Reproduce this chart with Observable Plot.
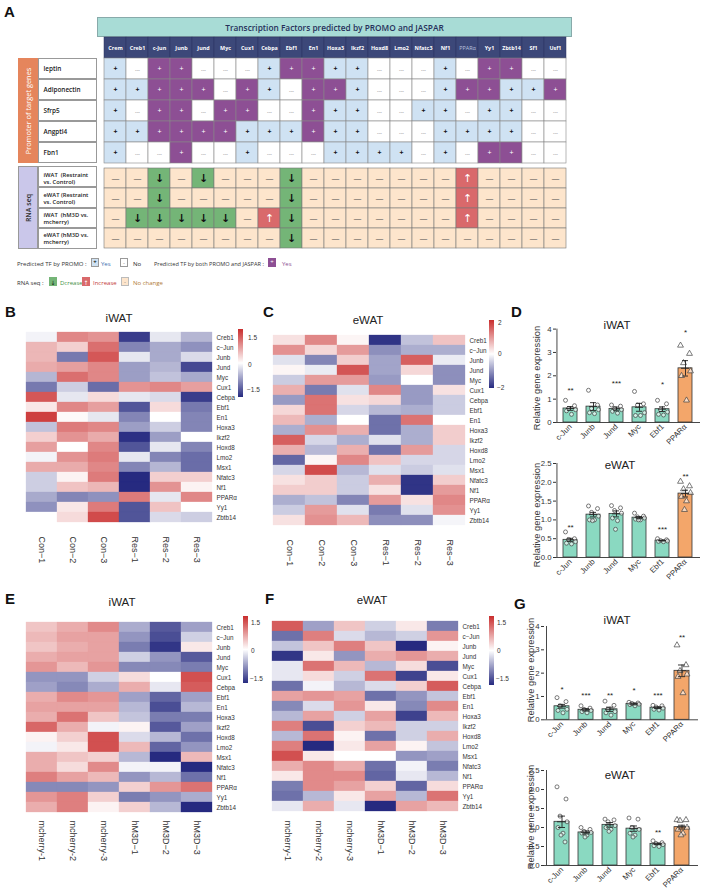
<!DOCTYPE html>
<html><head><meta charset="utf-8">
<script src="https://cdn.jsdelivr.net/npm/d3@7"></script>
<script src="https://cdn.jsdelivr.net/npm/@observablehq/plot@0.6"></script>
<style>
body{margin:0;background:#fff;font-family:"Liberation Sans",Arial,sans-serif;}
#fig{position:relative;width:709px;height:892px;overflow:hidden;background:#fff;}
#fig svg{position:absolute;overflow:visible;}
.box{position:absolute;box-sizing:border-box;}
</style></head><body><div id="fig"></div>
<script>
// ---------------- DATA ----------------
const tfs = ["Crem","Creb1","c-Jun","Junb","Jund","Myc","Cux1","Cebpa","Ebf1","En1","Hoxa3","Ikzf2","Hoxd8","Lmo2","Nfatc3","Nf1","PPARα","Yy1","Zbtb14","Sf1","Usf1"];
const promoterGenes = ["leptin","Adiponectin","Sfrp5","Angptl4","Fbn1"];
// P = PROMO only, B = PROMO and JASPAR, N = not predicted
const promoterCalls = [
  "PNBBNNNPBBPPNNNPNBBNN",
  "PPBBBNBPNBBPNNNPBBPPB",
  "PNBBNBBNNBPPNNPPNPPNN",
  "PPBBBBPPPBPPNNNPPPPNN",
  "PNNBNNPNNNPPPPNPNBBNN"
];
const rnaRows = ["iWAT  (Restraint\nvs. Control)","eWAT (Restraint\nvs. Control)","iWAT  (hM3D vs.\nmcherry)","eWAT (hM3D vs.\nmcherry)"];
// D = decrease, I = increase, C = no change
const rnaCalls = [
  "CCDCDCCCDCCCCCCCICCCC",
  "CCDCCCCCDCCCCCCCICCCC",
  "CDDDDDCIDCCCCCCCICCCC",
  "CCCCCCCCDCCCCCCCCCCCC"
];

const hmGenes = ["Creb1","c−Jun","Junb","Jund","Myc","Cux1","Cebpa","Ebf1","En1","Hoxa3","Ikzf2","Hoxd8","Lmo2","Msx1","Nfatc3","Nf1","PPARα","Yy1","Zbtb14"];
const resSamples = ["Con−1","Con−2","Con−3","Res−1","Res−2","Res−3"];
const dreSamples = ["mcherry-1","mcherry-2","mcherry-3","hM3D−1","hM3D−2","hM3D−3"];
const hmB = [
 [-0.1,1.0,0.9,-1.6,-0.2,-0.6],[0.6,0.4,1.2,-1.0,-0.7,-0.9],[0.6,-1.1,1.4,-0.2,-0.7,-0.3],[0.7,0.8,1.0,-0.8,-0.6,-1.5],
 [-0.6,1.2,1.0,-0.8,-0.5,-0.7],[-1.1,-0.4,-1.2,0.9,1.0,0.8],[1.4,-0.2,0.3,-0.2,-0.3,-1.6],[0.2,1.0,0.8,-1.4,0.3,-1.1],
 [1.6,0.05,-0.2,-1.0,0.0,-1.0],[-0.5,1.1,1.0,-0.8,-0.4,-1.0],[0.4,0.9,0.7,-1.7,-0.8,0.0],[0.8,0.0,1.0,-1.4,-0.2,-1.0],
 [-0.1,0.9,1.1,-0.2,-1.0,-1.2],[0.7,0.7,1.0,-1.0,-0.6,-1.2],[-0.4,0.1,1.1,-1.9,0.4,0.4],[-0.4,0.5,0.6,-1.9,0.9,0.1],
 [-0.7,-1.0,-0.9,1.1,-0.2,1.0],[-0.9,0.2,1.1,-1.4,0.5,0.0],[0.0,0.3,1.5,-1.4,-0.3,-0.4]
];
const hmC = [
 [0.3,1.2,0.1,-2.0,-0.6,0.6],[1.1,0.4,1.0,-1.1,-0.8,-0.8],[-0.3,-1.2,0.5,-0.9,1.6,-0.2],[0.1,-0.2,1.7,-0.9,0.4,-1.1],
 [-0.5,1.0,1.0,-1.0,0.0,-1.1],[0.8,-1.3,-0.3,1.2,-1.0,0.3],[-1.0,1.4,0.3,0.4,-1.0,-0.5],[0.4,1.4,-0.4,-0.7,-0.8,-0.5],
 [0.7,-0.8,0.0,-1.4,1.4,0.0],[-0.8,1.1,0.8,-1.4,-0.8,0.5],[1.6,-0.4,-0.8,-0.3,-0.8,0.5],[0.8,-0.7,0.8,-1.4,1.0,-0.4],
 [-1.5,0.1,1.2,0.6,-0.4,-0.4],[-0.4,1.8,-0.7,-0.3,-0.5,-0.3],[0.3,0.5,-0.5,0.8,-2.0,0.5],[0.5,0.5,-0.5,0.3,-2.0,1.0],
 [-0.8,-0.6,-1.2,1.0,0.3,1.2],[-0.5,1.0,-0.3,-1.3,-0.3,1.1],[0.3,1.1,0.7,-1.1,-1.1,-0.1]
];
const hmE = [
 [0.5,0.7,1.0,-0.7,-1.4,-0.8],[0.6,0.8,0.8,-0.9,-1.5,-0.4],[0.5,0.7,0.8,-1.1,-1.7,0.2],[0.7,0.8,0.8,-0.4,-0.9,-1.4],
 [0.9,0.6,0.9,-1.0,-1.0,-1.1],[-0.9,-0.9,-0.4,0.3,0.0,1.5],[-0.8,-1.0,-0.7,0.7,-0.2,1.4],[0.7,1.0,0.9,-0.8,-1.3,-0.8],
 [0.8,0.8,0.8,-0.6,-1.5,-0.6],[0.7,1.2,0.5,-0.5,-1.1,-1.1],[1.3,0.7,-0.1,0.1,-1.4,-0.8],[0.1,0.4,1.5,-0.3,-0.6,-1.2],
 [-0.1,0.2,1.5,0.6,-1.3,-0.9],[0.7,0.5,0.4,-0.6,-1.9,0.6],[0.7,0.3,1.0,-0.1,-0.1,-1.9],[1.1,0.8,0.6,-0.9,-0.6,-1.2],
 [-1.0,-1.0,-0.9,0.4,0.9,1.2],[0.9,1.1,0.4,-1.1,-0.9,-0.7],[0.7,1.1,0.1,0.4,-0.6,-1.8]
];
const hmF = [
 [1.4,-0.8,0.5,-0.4,0.2,-1.1],[-1.2,1.1,-0.3,-0.6,-0.4,0.9],[-0.5,0.5,1.1,0.5,-1.8,0.1],[-1.7,0.2,-0.9,0.7,0.9,0.7],
 [-0.2,1.2,0.6,-0.6,0.3,-1.5],[-0.2,0.3,-0.4,1.2,-1.6,0.2],[-1.2,-0.1,-0.6,-0.3,0.4,1.4],[0.8,0.9,0.8,-1.2,-0.9,-0.5],
 [-1.0,-0.3,0.9,0.2,-1.0,1.0],[-0.6,0.8,-0.4,0.8,-1.6,0.6],[1.1,-1.5,0.4,0.6,-0.4,-0.4],[-0.6,1.2,0.1,-1.2,-0.4,0.7],
 [1.1,-1.8,0.2,0.8,0.1,-0.5],[1.5,0.2,0.0,0.0,-0.9,-0.8],[0.7,1.0,0.7,-1.2,-0.1,-1.1],[0.2,1.0,1.0,-1.3,-0.2,-0.6],
 [-1.1,1.0,0.8,0.4,-1.3,0.3],[-1.2,-0.6,0.2,0.8,-0.6,1.2],[-0.2,0.7,-0.2,-1.8,0.8,0.6]
];

const qGenes = ["c-Jun","Junb","Jund","Myc","Ebf1","PPARα"];
const dIwatMean = [0.60,0.68,0.58,0.65,0.57,2.32];
const dIwatSem  = [0.08,0.17,0.08,0.17,0.10,0.33];
const dIwatPts  = [[0.95,0.72,0.6,0.55,0.5,0.35],[1.38,0.75,0.6,0.55,0.42,0.38],[0.75,0.7,0.6,0.55,0.48,0.4],[1.33,0.8,0.75,0.42,0.3,0.3],[0.95,0.8,0.55,0.45,0.35,0.32],[3.3,2.95,2.55,2.2,2.0,0.95]];
const dIwatStars = ["**","","***","","*","*"];
const dIwatStarY = [1.45,0,1.75,0,1.7,3.95];

const dEwatMean = [0.47,1.14,1.16,1.06,0.45,1.70];
const dEwatSem  = [0.04,0.06,0.08,0.03,0.01,0.09];
const dEwatPts  = [[0.68,0.5,0.48,0.42,0.38,0.36],[1.37,1.3,1.2,1.1,1.0,1.0,0.98],[1.38,1.32,1.25,1.18,1.05,0.98,0.75],[1.18,1.1,1.08,1.05,1.02,1.0,1.0],[0.5,0.47,0.45,0.44,0.43,0.42],[2.02,1.9,1.82,1.72,1.62,1.5,1.27]];
const dEwatStars = ["**","","","","***","**"];
const dEwatStarY = [0.85,0,0,0,0.8,2.22];

const gIwatMean = [0.58,0.43,0.45,0.68,0.52,2.10];
const gIwatSem  = [0.08,0.05,0.09,0.04,0.04,0.25];
const gIwatPts  = [[0.95,0.78,0.6,0.45,0.4,0.3],[0.6,0.5,0.45,0.4,0.35,0.3],[0.8,0.62,0.45,0.35,0.3,0.2],[0.75,0.72,0.7,0.67,0.65,0.6],[0.62,0.6,0.55,0.5,0.45,0.42],[3.2,2.35,2.1,1.95,1.85,1.15]];
const gIwatStars = ["*","***","**","*","***","**"];
const gIwatStarY = [1.38,1.14,1.14,1.36,1.14,3.62];

const gEwatMean = [1.15,0.87,1.07,0.97,0.57,1.01];
const gEwatSem  = [0.15,0.04,0.06,0.07,0.02,0.05];
const gEwatPts  = [[2.07,1.75,1.3,1.15,1.0,0.85,0.8,0.62],[1.0,0.95,0.9,0.87,0.85,0.8,0.75],[1.22,1.2,1.15,1.05,1.0,0.95,0.9],[1.25,1.22,1.0,0.95,0.85,0.8,0.75],[0.65,0.6,0.58,0.55,0.52,0.5],[1.2,1.2,1.18,1.0,0.95,0.85,0.8]];
const gEwatStars = ["","","","","**",""];
const gEwatStarY = [0,0,0,0,0.92,0];

// ---------------- HELPERS ----------------
const fig = document.getElementById("fig");
const FONT = "Liberation Sans, Arial, sans-serif";
function put(node, left, top){ node.style.position="absolute"; node.style.left=left+"px"; node.style.top=top+"px"; fig.appendChild(node); return node; }
function txt(t, left, top, css){ const d=document.createElement("div"); d.textContent=t; d.style.cssText="position:absolute;white-space:nowrap;line-height:1;"+(css||""); d.style.left=left+"px"; d.style.top=top+"px"; fig.appendChild(d); return d; }
function ctxt(t, cx, cy, css, rot){ const d=txt(t,cx,cy,css); d.style.transform="translate(-50%,-50%)"+(rot?" rotate("+rot+"deg)":""); return d; }
function box(left, top, w, h, css){ const d=document.createElement("div"); d.className="box"; d.style.cssText+= "left:"+left+"px;top:"+top+"px;width:"+w+"px;height:"+h+"px;"+(css||""); fig.appendChild(d); return d; }

// Panel letters
[["A",4,3],["B",5,303],["C",263,303],["D",511,303],["E",5,590],["F",265,590],["G",514,595]].forEach(([l,x,y])=>txt(l,x,y,"font:bold 15px "+FONT+";color:#111;"));

// ---------------- PANEL A ----------------
const TF = "Open Sans, Lato, sans-serif";
const cellColor = {P:"#cfe2f3",B:"#8d4f94",N:"#ffffff",D:"#74b577",I:"#d9696b",C:"#fde5cc"};
box(97,17,475,20,"background:#a8dcd6;border:0.6px solid #8aa;");
ctxt("Transcription Factors  predicted by PROMO and JASPAR",334.5,27,"font:600 8.3px "+TF+";color:#26305a;");
box(18,58,20,105,"background:#e5855c;");
ctxt("Promoter of target genes",28,110.5,"font:7.4px "+TF+";color:#fff;",-90);
box(18,166,20,83,"background:#cac7ea;border:0.6px solid #999;");
ctxt("RNA seq",28,207.5,"font:600 7px "+TF+";color:#333;",-90);
for(let i=0;i<5;i++) box(38,58+21*i,59,21,"background:#fff;border:0.6px solid #999;");
for(let i=0;i<4;i++) box(38,166+20.75*i,59,20.75,"background:#fff;border:0.6px solid #999;");

const headerRow = tfs.map(t=>({tf:t,row:"header"}));
const promoData = promoterGenes.flatMap((g,i)=>tfs.map((t,j)=>({row:g,tf:t,type:promoterCalls[i][j]})));
const plotA1 = Plot.plot({
  width:580,height:126,marginLeft:97,marginRight:8,marginTop:0,marginBottom:0,
  x:{domain:tfs,padding:0,axis:null},
  y:{domain:["header",...promoterGenes],padding:0,axis:null},
  color:{type:"identity"},
  style:{background:"transparent",fontFamily:TF,overflow:"visible"},
  marks:[
    Plot.cell(headerRow,{x:"tf",y:"row",fill:"#3c4879",stroke:"#2a3361",strokeWidth:0.5}),
    Plot.text(headerRow.filter(d=>d.tf!=="PPARα"),{x:"tf",y:"row",text:"tf",fill:"#fff",fontWeight:"bold",fontSize:5.4}),
    Plot.text(headerRow.filter(d=>d.tf==="PPARα"),{x:"tf",y:"row",text:"tf",fill:"#b9c1df",fontSize:5.4}),
    Plot.cell(promoData,{x:"tf",y:"row",fill:d=>cellColor[d.type],stroke:"#888",strokeWidth:0.6}),
    Plot.text(promoData.filter(d=>d.type==="P"),{x:"tf",y:"row",text:()=>"+",fill:"#111",fontSize:7,fontWeight:"bold"}),
    Plot.text(promoData.filter(d=>d.type==="B"),{x:"tf",y:"row",text:()=>"+",fill:"#fff",fontSize:7}),
    Plot.text(promoData.filter(d=>d.type==="N"),{x:"tf",y:"row",text:()=>"---",fill:"#777",fontSize:5,dy:1}),
    Plot.text(promoterGenes,{y:d=>d,text:d=>d,frameAnchor:"left",textAnchor:"start",dx:-54,fill:"#222",fontSize:6.4,fontWeight:600})
  ]
});
put(plotA1,0,37);

const rnaData = rnaRows.flatMap((r,i)=>tfs.map((t,j)=>({row:r,tf:t,type:rnaCalls[i][j]})));
const plotA2 = Plot.plot({
  width:580,height:83,marginLeft:97,marginRight:8,marginTop:0,marginBottom:0,
  x:{domain:tfs,padding:0,axis:null},
  y:{domain:rnaRows,padding:0,axis:null},
  color:{type:"identity"},
  style:{background:"transparent",fontFamily:TF,overflow:"visible"},
  marks:[
    Plot.cell(rnaData,{x:"tf",y:"row",fill:d=>cellColor[d.type],stroke:"#777",strokeWidth:0.6}),
    Plot.text(rnaData.filter(d=>d.type==="D"),{x:"tf",y:"row",text:()=>"↓",fill:"#111",fontSize:11,fontWeight:"bold",fontFamily:"DejaVu Sans"}),
    Plot.text(rnaData.filter(d=>d.type==="I"),{x:"tf",y:"row",text:()=>"↑",fill:"#fff",fontSize:11,fontFamily:"DejaVu Sans"}),
    Plot.text(rnaData.filter(d=>d.type==="C"),{x:"tf",y:"row",text:()=>"—",fill:"#555",fontSize:8}),
    Plot.text(rnaRows,{y:d=>d,text:d=>d,frameAnchor:"left",textAnchor:"start",dx:-54,fill:"#222",fontSize:5.8,fontWeight:600,lineHeight:1.15})
  ]
});
put(plotA2,0,166);

// legend of panel A
const LF = "font:6px "+TF+";";
txt("Predicted TF by PROMO :",17,259.5,LF+"color:#333;");
box(91,258,8,9,"background:#cfe2f3;border:0.6px solid #999;");
ctxt("+",95,262.3,"font:bold 6px "+TF+";color:#111;");
txt("Yes",101,259.5,LF+"color:#3a6db0;");
box(120,258,8,9,"background:#fff;border:0.6px solid #999;");
ctxt("-",124,263,"font:6px "+TF+";color:#777;");
txt("No",133,259.5,LF+"color:#222;");
txt("Predicted TF by both PROMO and JASPAR :",154,259.8,"font:5.6px "+TF+";color:#333;");
box(268,258,8,9,"background:#8d4f94;");
ctxt("+",272,262.3,"font:6px "+TF+";color:#fff;");
txt("Yes",282,259.5,LF+"color:#8d4f94;");
txt("RNA seq :",17,278.5,LF+"color:#333;");
box(49,277,8,9,"background:#74b577;");
ctxt("↓",53,281.5,"font:6px DejaVu Sans;color:#111;");
txt("Dcrease",60,278.5,LF+"color:#3f8f45;");
box(82,277,8,9,"background:#d9696b;");
ctxt("↑",86,281.5,"font:6px DejaVu Sans;color:#fff;");
txt("Increase",93,278.5,LF+"color:#c23b3b;");
box(121,277,8,9,"background:#fde5cc;border:0.6px solid #bbb;");
ctxt("-",125,281.5,"font:6px "+TF+";color:#777;");
txt("No change",133,278.5,LF+"color:#b07a35;");

// ---------------- HEATMAPS ----------------
const HM_RANGE = ["#262a80","#ffffff","#c92d2d"];
function heatmap(samples, values, lim, left, top, w, h, xPad){
  const data = hmGenes.flatMap((g,i)=>samples.map((s,j)=>({g,s,v:values[i][j]})));
  const p = Plot.plot({
    width:w+34,height:h+50,marginLeft:0,marginTop:0,marginRight:34,marginBottom:50,
    x:{domain:samples,padding:0},
    y:{domain:hmGenes,padding:0},
    color:{type:"linear",domain:[-lim,0,lim],range:HM_RANGE,interpolate:"rgb",clamp:true},
    style:{background:"transparent",fontFamily:FONT,overflow:"visible",color:"#333"},
    marks:[
      Plot.cell(data,{x:"s",y:"g",fill:"v",stroke:"v",strokeWidth:0.3}),
      Plot.axisY({anchor:"right",tickSize:0,tickPadding:2,fontSize:6.3,label:null}),
      Plot.axisX({anchor:"bottom",tickSize:0,tickPadding:xPad,tickRotate:90,fontSize:9,label:null})
    ]
  });
  put(p,left,top);
}
heatmap(resSamples,hmB,1.75,24,328,190,198,10);
heatmap(resSamples,hmC,2.1,270,329,197,202,8);
heatmap(dreSamples,hmE,1.8,23,616,191,201,3);
heatmap(dreSamples,hmF,1.8,270,615,190,202,3);

const grad = "background:linear-gradient(to bottom,"+HM_RANGE[2]+","+HM_RANGE[1]+","+HM_RANGE[0]+");";
const SL = "font:6.5px "+FONT+";color:#333;";
box(238,329,5,68,grad); txt("1.5",248,334,SL); txt("0",248,361,SL); txt("−1.5",247,386,SL);
box(489,320,5,68,grad); txt("2",498,319,SL); txt("0",498,350,SL); txt("−2",497,384,SL);
box(243,616,5,67,grad); txt("1.5",251,619,SL); txt("0",251,647,SL); txt("−1.5",250,675,SL);
box(489,616,5,69,grad); txt("1.5",497,619,SL); txt("0",497,647,SL); txt("−1.5",496,675,SL);

const TT = "font:11.5px "+FONT+";color:#222;";
ctxt("iWAT",119,318,TT); ctxt("eWAT",368,320,TT);
ctxt("iWAT",122,602,TT); ctxt("eWAT",372,600,TT);

// ---------------- BAR CHARTS ----------------
const offsets = [-5,4,-2,5,-4,1,-1,3];
function barChart(means, sems, pts, stars, starY, yMax, ticks, fmt, left, top, mLeft, width, mTop, plotH, mBottom, pInner, pOuter){
  const bars = qGenes.map((g,i)=>({gene:g,mean:means[i],sem:sems[i],star:stars[i],sy:starY[i],fill:g==="PPARα"?"#f3a66a":"#8ad9c1"}));
  const points = qGenes.flatMap((g,i)=>pts[i].map((v,k)=>({gene:g,v,k})));
  const step = (width - mLeft) / (qGenes.length - pInner + 2*pOuter);
  const axisDx = -(pOuter*step + step*(1-pInner)/2);
  const marks = [
    Plot.barY(bars,{x:"gene",y:"mean",fill:"fill",stroke:"#333",strokeWidth:0.8}),
  ];
  for(let k=0;k<8;k++){
    marks.push(Plot.dot(points.filter(p=>p.k===k&&p.gene!=="PPARα"),{x:"gene",y:"v",dx:offsets[k],r:2,fill:"#fff",fillOpacity:0.6,stroke:"#444",strokeWidth:0.7}));
    marks.push(Plot.dot(points.filter(p=>p.k===k&&p.gene==="PPARα"),{x:"gene",y:"v",dx:offsets[k],r:2.2,symbol:"triangle",fill:"#fff",fillOpacity:0.6,stroke:"#444",strokeWidth:0.7}));
  }
  marks.push(
    Plot.ruleX(bars,{x:"gene",y1:d=>d.mean-d.sem,y2:d=>d.mean+d.sem,stroke:"#222",strokeWidth:0.9}),
    Plot.tickY(bars,{x:"gene",y:d=>d.mean+d.sem,stroke:"#222",strokeWidth:0.9,insetLeft:4,insetRight:4}),
    Plot.tickY(bars,{x:"gene",y:d=>d.mean-d.sem,stroke:"#222",strokeWidth:0.9,insetLeft:4,insetRight:4}),
    Plot.tickY(bars,{x:"gene",y:"mean",stroke:"#222",strokeWidth:0.9,insetLeft:3,insetRight:3}),
    Plot.text(bars.filter(d=>d.star),{x:"gene",y:"sy",text:"star",fontSize:8,fill:"#222",dy:2}),
    Plot.ruleY([0],{stroke:"#333",strokeWidth:0.9}),
    Plot.ruleX([qGenes[0]],{x:d=>d,dx:axisDx,stroke:"#333",strokeWidth:0.9}),
    Plot.axisY({ticks:ticks,tickFormat:fmt,tickSize:3,tickPadding:2,fontSize:7.8,label:null}),
    Plot.axisX({tickRotate:-45,tickSize:0,tickPadding:3,fontSize:7.8,label:null})
  );
  const p = Plot.plot({
    width:width,height:mTop+plotH+mBottom,marginLeft:mLeft,marginRight:0,marginTop:mTop,marginBottom:mBottom,
    x:{domain:qGenes,paddingInner:pInner,paddingOuter:pOuter},
    y:{domain:[0,yMax]},
    color:{type:"identity"},
    style:{background:"transparent",fontFamily:FONT,fontSize:"7.8px",overflow:"visible",color:"#333"},
    marks
  });
  put(p,left,top);
}
const f0 = d3.format(".0f"), f1 = d3.format(".1f");
barChart(dIwatMean,dIwatSem,dIwatPts,dIwatStars,dIwatStarY,4,[0,1,2,3,4],f0,500,318,56,200,10.6,93.4,32,0.38,0.27);
barChart(dEwatMean,dEwatSem,dEwatPts,dEwatStars,dEwatStarY,2.5,[0,0.5,1,1.5,2,2.5],f1,500,453,56,200,10,94,34,0.38,0.27);
barChart(gIwatMean,gIwatSem,gIwatPts,gIwatStars,gIwatStarY,4,[0,1,2,3,4],f0,490,616,54,208,10,93.3,32,0.38,0.32);
barChart(gEwatMean,gEwatSem,gEwatPts,gEwatStars,gEwatStarY,2.5,[0,0.5,1,1.5,2,2.5],f1,490,760,54,208,10,95,27,0.38,0.32);

ctxt("iWAT",617,325,TT); ctxt("eWAT",620,465,TT);
ctxt("iWAT",617,620,TT); ctxt("eWAT",620,775,TT);
const YL = "font:9.3px "+FONT+";color:#333;";
ctxt("Relative gene expression",537,378,YL,-90);
ctxt("Relative gene expression",537,515,YL,-90);
ctxt("Relative gene expression",531,670,YL,-90);
ctxt("Relative gene expression",531,817,YL,-90);
</script></body></html>
